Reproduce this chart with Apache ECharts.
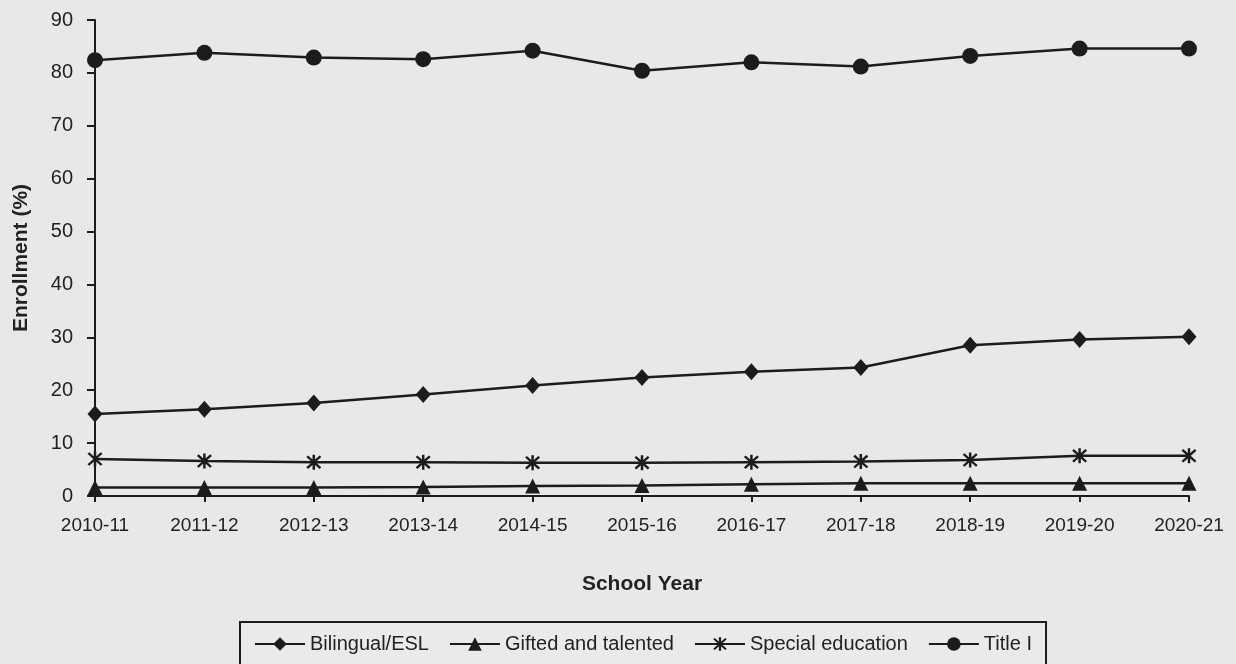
<!DOCTYPE html>
<html>
<head>
<meta charset="utf-8">
<script src="https://cdn.jsdelivr.net/npm/echarts@6/dist/echarts.min.js"></script>
<style>
  html, body { margin: 0; padding: 0; background: #e8e8e6; }
  #chart { width: 1236px; height: 664px; }
</style>
</head>
<body>
<div id="chart"></div>
<script>
const years = ['2010-11', '2011-12', '2012-13', '2013-14', '2014-15', '2015-16',
  '2016-17', '2017-18', '2018-19', '2019-20', '2020-21']
const bilingual = [15.5, 16.4, 17.6, 19.2, 20.9, 22.4, 23.5, 24.3, 28.5, 29.6, 30.1]
const gifted = [1.6, 1.6, 1.6, 1.7, 1.9, 2.0, 2.2, 2.4, 2.4, 2.4, 2.4]
const specialEd = [7.0, 6.6, 6.4, 6.4, 6.3, 6.3, 6.4, 6.5, 6.8, 7.6, 7.6]
const titleOne = [82.4, 83.8, 82.9, 82.6, 84.2, 80.4, 82.0, 81.2, 83.2, 84.6, 84.6]

const ink = '#1c1c1c'
const font = 'Liberation Sans, Arial, sans-serif'

// asterisk marker: vertical bar plus two diagonals
const asterisk = 'path://M8.5 0L11.5 0L11.5 20L8.5 20Z' +
  'M3.1 1L19 16.9L16.9 19L1 3.1Z' +
  'M19 3.1L3.1 19L1 16.9L16.9 1Z'

const myChart = echarts.init(document.getElementById('chart'))

function makeSeries(name, data, symbol, size) {
  return {
    name: name,
    type: 'line',
    data: data,
    symbol: symbol,
    symbolSize: size,
    showAllSymbol: true,
    lineStyle: { color: ink, width: 2.5 },
    itemStyle: { color: ink },
    emphasis: { disabled: true },
    animation: false
  }
}

const option = {
  backgroundColor: '#e8e8e6',
  grid: { left: 95, right: 47, top: 20, bottom: 168 },
  legend: {
    left: 240,
    top: 622,
    padding: [12, 14],
    itemGap: 20,
    itemWidth: 50,
    itemHeight: 17,
    backgroundColor: '#eaeae8',
    borderColor: ink,
    borderWidth: 2,
    textStyle: { color: '#222', fontSize: 20, fontFamily: font },
    data: ['Bilingual/ESL', 'Gifted and talented', 'Special education', 'Title I']
  },
  xAxis: {
    type: 'category',
    data: years,
    boundaryGap: false,
    name: 'School Year',
    nameLocation: 'middle',
    nameGap: 78,
    nameTextStyle: { color: '#222', fontSize: 21, fontWeight: 'bold', fontFamily: font },
    axisLine: { lineStyle: { color: ink, width: 2 } },
    axisTick: { show: true, length: 6, lineStyle: { color: ink, width: 2 } },
    axisLabel: { color: '#222', fontSize: 19, fontFamily: font, margin: 20 },
    splitLine: { show: false }
  },
  yAxis: {
    type: 'value',
    min: 0,
    max: 90,
    interval: 10,
    name: 'Enrollment (%)',
    nameLocation: 'middle',
    nameGap: 63,
    nameTextStyle: { color: '#222', fontSize: 21, fontWeight: 'bold', fontFamily: font },
    axisLine: { show: true, lineStyle: { color: ink, width: 2 } },
    axisTick: { show: true, length: 8, lineStyle: { color: ink, width: 2 } },
    axisLabel: { color: '#222', fontSize: 20, fontFamily: font, margin: 22 },
    splitLine: { show: false }
  },
  series: [
    makeSeries('Bilingual/ESL', bilingual, 'diamond', [15, 17]),
    makeSeries('Gifted and talented', gifted, 'triangle', 15),
    makeSeries('Special education', specialEd, asterisk, 15),
    makeSeries('Title I', titleOne, 'circle', 16)
  ]
}

myChart.setOption(option)
</script>
</body>
</html>
